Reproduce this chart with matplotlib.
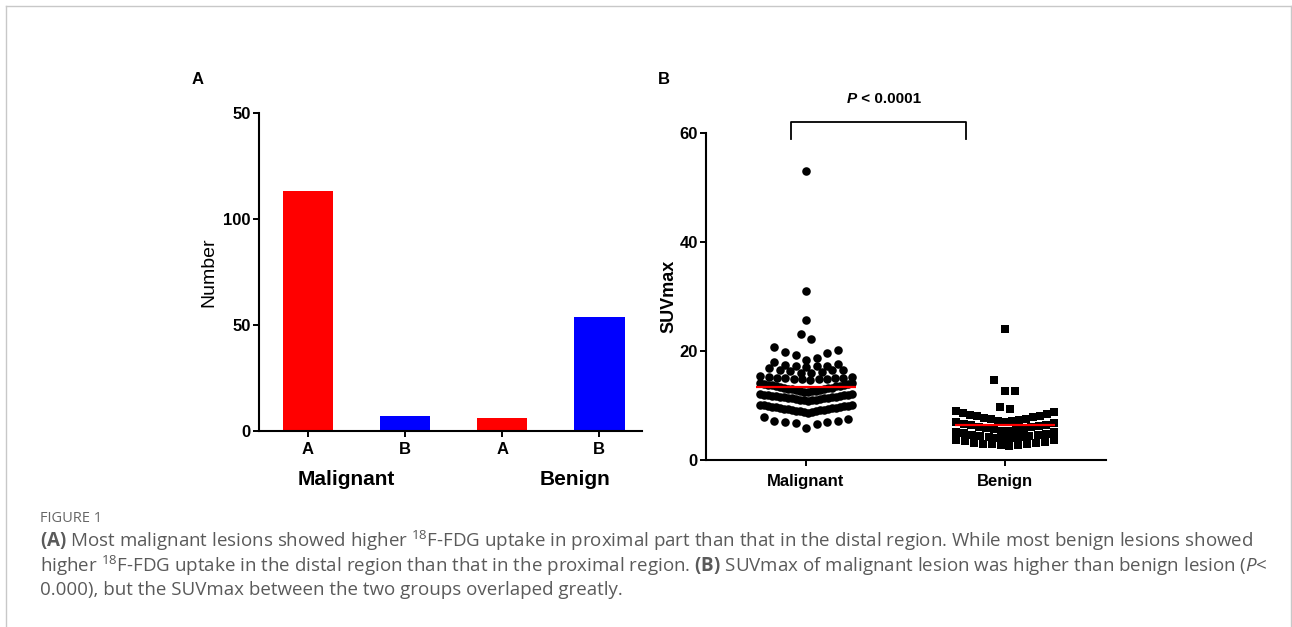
import numpy as np
import matplotlib
matplotlib.use("Agg")
import matplotlib.pyplot as plt
from matplotlib.lines import Line2D

plt.rcParams['font.family'] = ['Liberation Sans', 'DejaVu Sans']
plt.rcParams['mathtext.fontset'] = 'custom'
plt.rcParams['mathtext.rm'] = 'Open Sans'
plt.rcParams['mathtext.it'] = 'Open Sans:italic'
plt.rcParams['mathtext.bf'] = 'Open Sans:bold'

# ---- panel A data: number of lesions by higher-uptake region ----
bar_labels = ['A', 'B', 'A', 'B']
bar_counts = [113, 7, 6, 54]
bar_colors = ['#ff0000', '#0000ff', '#ff0000', '#0000ff']
group_names = ['Malignant', 'Benign']
a_yticks = [0, 50, 100, 150]
a_yticklabels = ['0', '50', '100', '50']

# ---- panel B data: SUVmax per lesion ----
malignant_suv = [
    5.8, 6.6, 6.7, 6.9, 6.9, 7.1, 7.2, 7.6, 7.8,
    8.7, 8.75, 8.8, 8.9, 8.95, 9.0, 9.1, 9.15, 9.2, 9.3, 9.35, 9.4,
    9.5, 9.55, 9.6, 9.7, 9.75, 9.8, 9.9, 9.95, 10.0, 10.05, 10.1, 10.15,
    10.9, 10.95, 11.0, 11.05, 11.1, 11.15, 11.2, 11.3, 11.35, 11.4, 11.45, 11.5,
    11.55, 11.6, 11.65, 11.7, 11.75, 11.8, 11.85, 11.9, 11.95, 12.0, 12.05, 12.1,
    12.5, 12.55, 12.6, 12.7, 12.75, 12.8, 12.9, 13.0, 13.05, 13.1, 13.2, 13.25,
    13.3, 13.4, 13.5, 13.55, 13.6, 13.7, 13.8, 13.85, 13.9, 14.0, 14.1, 14.2,
    14.7, 14.8, 14.8, 14.9, 14.9, 15.0, 15.0, 15.1, 15.1, 15.2, 15.3, 15.4,
    15.9, 16.0, 16.2, 16.4, 16.5, 16.6, 16.6, 16.8,
    17.1, 17.2, 17.2, 17.3, 17.5, 17.7, 18.0,
    18.3, 18.8, 19.2, 19.7, 19.8, 20.2, 20.7,
    22.2, 23.2,
    25.7, 31.0, 53.0,
]
benign_suv = [
    2.6, 2.7, 2.75, 2.85, 2.9, 3.0, 3.1, 3.2, 3.35, 3.45, 3.6, 3.75,
    3.9, 4.0, 4.05, 4.15, 4.25, 4.35, 4.45, 4.55, 4.65, 4.8, 4.9, 5.05, 5.2,
    5.3, 5.4, 5.5, 5.6, 5.75, 5.85, 6.0, 6.1, 6.2, 6.35, 6.5, 6.6, 6.75, 6.9,
    7.0, 7.1, 7.2, 7.35, 7.5, 7.6, 7.75, 7.9, 8.0, 8.15, 8.3, 8.45, 8.6, 8.8, 9.0,
    9.3, 9.8,
    12.7, 12.7, 14.6,
    24.0,
]
b_groups = ['Malignant', 'Benign']
p_text = ' < 0.0001'

caption_title = 'FIGURE 1'
caption_lines = [
    r'$\mathbf{(A)}$ Most malignant lesions showed higher $^{18}$F-FDG uptake in proximal part than that in the distal region. While most benign lesions showed',
    r'higher $^{18}$F-FDG uptake in the distal region than that in the proximal region. $\mathbf{(B)}$ SUVmax of malignant lesion was higher than benign lesion ($\mathit{P}$<',
    '0.000), but the SUVmax between the two groups overlaped greatly.',
]


def swarm_offsets(values, edges, step_max, half_width):
    # prism-like column scatter: bin values, spread each bin sideways,
    # lowest value in the centre, then alternating right / left
    values = np.asarray(values, dtype=float)
    offsets = np.zeros(len(values))
    bins = np.digitize(values, edges)
    for b in np.unique(bins):
        idx = np.where(bins == b)[0]
        idx = idx[np.argsort(values[idx], kind='stable')]
        n = len(idx)
        if n == 1:
            continue
        step = min(step_max, 2 * half_width / (n - 1))
        slots = (np.arange(n) - (n - 1) / 2) * step
        order = sorted(range(n), key=lambda k: (abs(slots[k]), -slots[k]))
        offsets[idx] = slots[order]
    return offsets


W, H = 1292, 627
fig = plt.figure(figsize=(W / 100, H / 100), dpi=100)

# light frame round the figure (open at the bottom)
frame = '#c8c8c8'
fig.add_artist(Line2D([6 / W, 6 / W], [1 - 6 / H, 0], color=frame, lw=1.0))
fig.add_artist(Line2D([6 / W, 1291 / W], [1 - 6 / H, 1 - 6 / H], color=frame, lw=1.0))
fig.add_artist(Line2D([1291 / W, 1291 / W], [1 - 6 / H, 0], color=frame, lw=1.0))

# ---------------- panel A ----------------
ax1 = fig.add_axes([259 / W, 1 - 431 / H, (642 - 259) / W, (431 - 113) / H])
xpos = np.arange(len(bar_counts))
ax1.bar(xpos, bar_counts, width=0.52, color=bar_colors)
ax1.set_xlim(-0.505, 3.44)
ax1.set_ylim(0, 150)
ax1.set_xticks(xpos)
ax1.set_xticklabels(bar_labels, fontweight='bold', fontsize=12)
ax1.set_yticks(a_yticks)
ax1.set_yticklabels(a_yticklabels, fontweight='bold', fontsize=12)
ax1.set_ylabel('Number', fontsize=14, labelpad=4)
for s in ['top', 'right']:
    ax1.spines[s].set_visible(False)
for s in ['left', 'bottom']:
    ax1.spines[s].set_linewidth(1.5)
ax1.tick_params(axis='both', direction='out', length=4, width=1.4)
ax1.tick_params(axis='x', pad=4)
ax1.tick_params(axis='y', pad=2)
ax1.text(0.397, -0.151, group_names[0], transform=ax1.get_xaxis_transform(),
         ha='center', va='center', fontsize=15, fontweight='bold')
ax1.text(2.75, -0.151, group_names[1], transform=ax1.get_xaxis_transform(),
         ha='center', va='center', fontsize=15, fontweight='bold')
fig.text(198 / W, 1 - 80 / H, 'A', ha='center', va='center', fontsize=12, fontweight='bold')

# ---------------- panel B ----------------
ax2 = fig.add_axes([706 / W, 1 - 460 / H, (1106 - 706) / W, (460 - 133) / H])
mal_x = 0 + swarm_offsets(malignant_suv, [8.3, 10.45, 12.3, 14.5, 15.6, 17.0, 18.1, 21.5, 24, 27, 35],
                          0.053, 0.23)
ben_x = 1 + swarm_offsets(benign_suv, [3.85, 5.25, 6.95, 9.05, 11, 16], 0.053, 0.246)
ax2.scatter(mal_x, malignant_suv, s=38, marker='o', color='black', linewidths=0, zorder=3)
ax2.scatter(ben_x, benign_suv, s=30, marker='s', color='black', linewidths=0, zorder=3)
ax2.hlines(np.mean(malignant_suv), -0.25, 0.25, color='#ff0000', lw=1.6, zorder=4)
ax2.hlines(np.mean(benign_suv), 0.75, 1.25, color='#ff0000', lw=1.6, zorder=4)
ax2.set_xlim(-0.503, 1.508)
ax2.set_ylim(0, 60)
ax2.set_xticks([0, 1])
ax2.set_xticklabels(b_groups, fontweight='bold', fontsize=12)
ax2.set_yticks([0, 20, 40, 60])
ax2.set_yticklabels(['0', '20', '40', '60'], fontweight='bold', fontsize=12)
ax2.set_ylabel('SUVmax', fontsize=13, fontweight='bold', labelpad=1)
for s in ['top', 'right']:
    ax2.spines[s].set_visible(False)
for s in ['left', 'bottom']:
    ax2.spines[s].set_linewidth(1.5)
ax2.tick_params(axis='both', direction='out', length=4, width=1.4)
ax2.tick_params(axis='x', pad=6)
ax2.tick_params(axis='y', pad=2)

# significance bracket
ax2.plot([-0.075, -0.075, 0.804, 0.804], [58.9, 62.0, 62.0, 58.9], color='black',
         lw=1.3, clip_on=False)
p_lbl = ax2.text(0.206, 66.2, 'P', ha='left', va='center', fontsize=11,
                 fontweight='bold', style='italic', clip_on=False)
ax2.annotate(p_text, xy=(1, 0), xycoords=p_lbl, ha='left', va='bottom',
             fontsize=11, fontweight='bold')
fig.text(664 / W, 1 - 80 / H, 'B', ha='center', va='center', fontsize=12, fontweight='bold')

# ---------------- caption ----------------
fig.text(40 / W, 1 - 519 / H, caption_title, ha='left', va='center', fontsize=10.5,
         color='#666666', family='Open Sans')
for i, line in enumerate(caption_lines):
    fig.text(40 / W, 1 - (541 + 24.5 * i) / H, line, ha='left', va='center',
             fontsize=13.5, color='#5a5a5a', family='Open Sans')

fig.savefig('out.png', dpi=100)
